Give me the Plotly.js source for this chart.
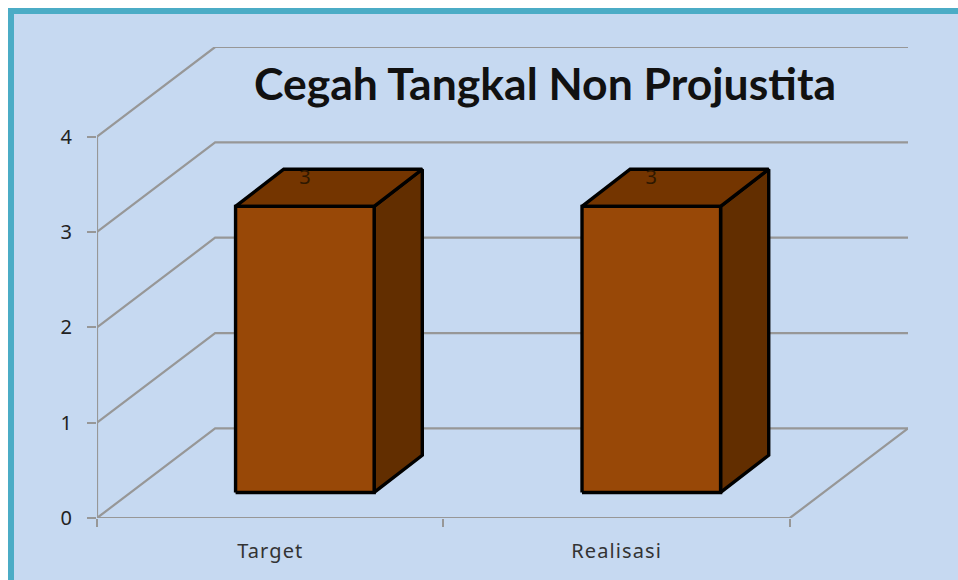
<!DOCTYPE html>
<html><head><meta charset="utf-8">
<script src="https://cdn.plot.ly/plotly-3.0.1.min.js"></script>
<style>
html,body{margin:0;padding:0;background:#fff;overflow:hidden}
#frame{position:absolute;left:8px;top:8px;width:944px;height:566px;border-left:6px solid #4bacc6;border-top:6px solid #4bacc6}
#chart{width:944px;height:566px}
.xtick text{letter-spacing:1.1px}
</style></head><body>
<div id="frame"><div id="chart"></div></div>
<script>
const categories = ['Target', 'Realisasi'];
const values = [3, 3];
const yTicks = [0, 1, 2, 3, 4];
const chartTitle = 'Cegah Tangkal Non Projustita';

// oblique projection, in axis units
const wallDx = 0.341, wallDy = 0.94;
const barShiftX = 0.1, barShiftY = 0.268, barDepthX = 0.139, barDepthY = 0.39, barWidth = 0.4;
const xEnd = categories.length;
const xMax = xEnd + wallDx;
const grey = '#979797', gw = 2.2;

const line = (x, y, w) => ({type:'scatter', mode:'lines', x, y, cliponaxis:false, hoverinfo:'skip',
  line:{color:grey, width:w || gw}, showlegend:false});
const face = (x, y, c) => ({type:'scatter', mode:'lines', x, y, fill:'toself', fillcolor:c, cliponaxis:false,
  hoverinfo:'skip', showlegend:false, line:{color:'#000', width:3.4}});

const traces = [];
yTicks.forEach(v => {
  traces.push(line([0, wallDx, xMax], [v, v + wallDy, v + wallDy]));
});
traces.push(line([0, 0], [0, yTicks[yTicks.length - 1]]));
traces.push(line([0, xEnd, xMax], [0, 0, wallDy]));

const lx = [], ly = [];
categories.forEach((c, i) => {
  const l = i + 0.5 + barShiftX - barWidth / 2, r = l + barWidth;
  const b = barShiftY, t = values[i] + barShiftY;
  traces.push(face([r, r + barDepthX, r + barDepthX, r, r], [b, b + barDepthY, t + barDepthY, t, b], '#622e00'));
  traces.push(face([l, l + barDepthX, r + barDepthX, r, l], [t, t + barDepthY, t + barDepthY, t, t], '#743500'));
  traces.push(face([l, r, r, l, l], [b, b, t, t, b], '#984807'));
  lx.push(i + 0.5 + barShiftX);
  ly.push(t + 0.29);
});
traces.push({type:'scatter', mode:'text', x:lx, y:ly, text:values.map(String), cliponaxis:false, hoverinfo:'skip',
  textposition:'middle center', textfont:{family:'Noto Sans', size:20, color:'#2e1800'}, showlegend:false});

const layout = {
  width:944, height:566, paper_bgcolor:'#c6d9f1', plot_bgcolor:'rgba(0,0,0,0)',
  margin:{l:83, r:50, t:33, b:62}, showlegend:false,
  title:{text:chartTitle, font:{family:'Lato', size:44.5, color:'#111', weight:700},
    x:531/944, xanchor:'center', y:1 - 70/566, yanchor:'middle'},
  xaxis:{range:[0, xMax], tickmode:'array', tickvals:categories.map((c, i) => i + 0.5), ticktext:categories,
    ticks:'', showgrid:false, zeroline:false, showline:false, ticklabelstandoff:19,
    tickfont:{family:'Noto Sans', size:20, color:'#333'},
    minor:{tickmode:'array', tickvals:[0, 1, 2], ticks:'outside', ticklen:8, tickwidth:2, tickcolor:grey, showgrid:false}},
  yaxis:{range:[0, 4 + wallDy], tickmode:'array', tickvals:yTicks, ticks:'outside', ticklen:9, tickwidth:2, tickcolor:grey,
    showgrid:false, zeroline:false, showline:false, ticklabelstandoff:11,
    tickfont:{family:'Noto Sans', size:20, color:'#222'}}
};
Plotly.newPlot('chart', traces, layout, {displayModeBar:false, responsive:false});
</script></body></html>
